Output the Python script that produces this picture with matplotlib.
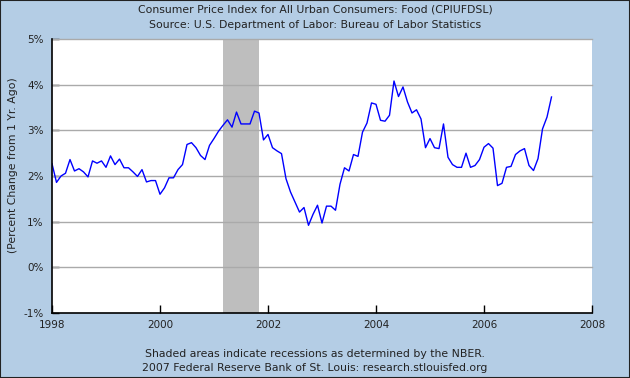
import numpy as np
import matplotlib
matplotlib.use("Agg")
import matplotlib.pyplot as plt

# Monthly year-over-year % change, Jan 1998 - Apr 2007
start_year = 1998
cpi_food_yoy = [
    2.27, 1.86, 2.00, 2.06, 2.36, 2.11, 2.16, 2.09, 1.98, 2.33, 2.28, 2.33,  # 1998
    2.19, 2.44, 2.25, 2.37, 2.18, 2.18, 2.09, 1.99, 2.14, 1.87, 1.90, 1.90,  # 1999
    1.60, 1.74, 1.96, 1.96, 2.14, 2.25, 2.69, 2.73, 2.62, 2.45, 2.36, 2.67,  # 2000
    2.82, 2.98, 3.11, 3.23, 3.07, 3.40, 3.14, 3.14, 3.14, 3.42, 3.38, 2.79,  # 2001
    2.91, 2.62, 2.55, 2.49, 1.94, 1.65, 1.43, 1.21, 1.31, 0.92, 1.16, 1.36,  # 2002
    0.97, 1.34, 1.34, 1.25, 1.82, 2.18, 2.11, 2.47, 2.43, 2.96, 3.16, 3.60,  # 2003
    3.57, 3.22, 3.20, 3.33, 4.08, 3.74, 3.95, 3.62, 3.38, 3.45, 3.25, 2.62,  # 2004
    2.82, 2.62, 2.60, 3.14, 2.41, 2.25, 2.19, 2.19, 2.50, 2.19, 2.23, 2.36,  # 2005
    2.63, 2.71, 2.61, 1.79, 1.84, 2.19, 2.21, 2.47, 2.55, 2.60, 2.23, 2.12,  # 2006
    2.38, 3.03, 3.29, 3.73,                                                  # 2007
]

# NBER recession Mar 2001 - Nov 2001, as decimal years
recession_start = 2001 + 2 / 12
recession_end = 2001 + 10 / 12

x_ticks = [1998, 2000, 2002, 2004, 2006, 2008]
y_ticks = [-1, 0, 1, 2, 3, 4, 5]

title_lines = [
    "Consumer Price Index for All Urban Consumers: Food (CPIUFDSL)",
    "Source: U.S. Department of Labor: Bureau of Labor Statistics",
]
footer_lines = [
    "Shaded areas indicate recessions as determined by the NBER.",
    "2007 Federal Reserve Bank of St. Louis: research.stlouisfed.org",
]
y_label = "(Percent Change from 1 Yr. Ago)"

BG = "#B4CDE5"
W, H = 630, 378

dates = start_year + np.arange(len(cpi_food_yoy)) / 12

fig = plt.figure(figsize=(W / 100, H / 100), dpi=100, facecolor=BG)
fig.patches.append(plt.Rectangle((0, 0), 1, 1, transform=fig.transFigure,
                                 fill=False, edgecolor="#222222", linewidth=1.5))

ax = fig.add_axes([52 / W, 1 - 313 / H, (592 - 52) / W, (313 - 39) / H])
ax.set_facecolor("white")

ax.axvspan(recession_start, recession_end, color="#BEBEBE", linewidth=0, zorder=1)
ax.plot(dates, cpi_food_yoy, color="#0000FF", linewidth=1.0, zorder=3)

ax.set_xlim(1998, 2008)
ax.set_ylim(-1, 5)
ax.set_xticks(x_ticks)
ax.set_xticklabels([str(t) for t in x_ticks])
ax.set_yticks(y_ticks)
ax.set_yticklabels([f"{t}%" for t in y_ticks])

for v in y_ticks[1:]:
    ax.axhline(v, color="#AAAAAA", linewidth=1.0, zorder=2, clip_on=False)

for side in ["top", "right"]:
    ax.spines[side].set_visible(False)
for side in ["left", "bottom"]:
    ax.spines[side].set_color("black")
    ax.spines[side].set_linewidth(1.2)
    ax.spines[side].set_zorder(4)

ax.tick_params(axis="both", direction="in", colors="black", labelsize=7.5,
               labelcolor="#222222")
ax.tick_params(axis="y", length=5, width=1, pad=6)
ax.tick_params(axis="x", length=6, width=1, pad=5)

fig.text(0.5, 1 - 10 / H, title_lines[0], ha="center", va="center",
         fontsize=7.8, color="#222222")
fig.text(0.5, 1 - 25 / H, title_lines[1], ha="center", va="center",
         fontsize=7.8, color="#222222")
fig.text(0.5, 1 - 354 / H, footer_lines[0], ha="center", va="center",
         fontsize=7.8, color="#222222")
fig.text(0.5, 1 - 368 / H, footer_lines[1], ha="center", va="center",
         fontsize=7.8, color="#222222")
fig.text(13 / W, 1 - 165 / H, y_label, ha="center", va="center",
         rotation=90, fontsize=7.8, color="#222222")

fig.savefig("out.png", dpi=100, facecolor=BG)
